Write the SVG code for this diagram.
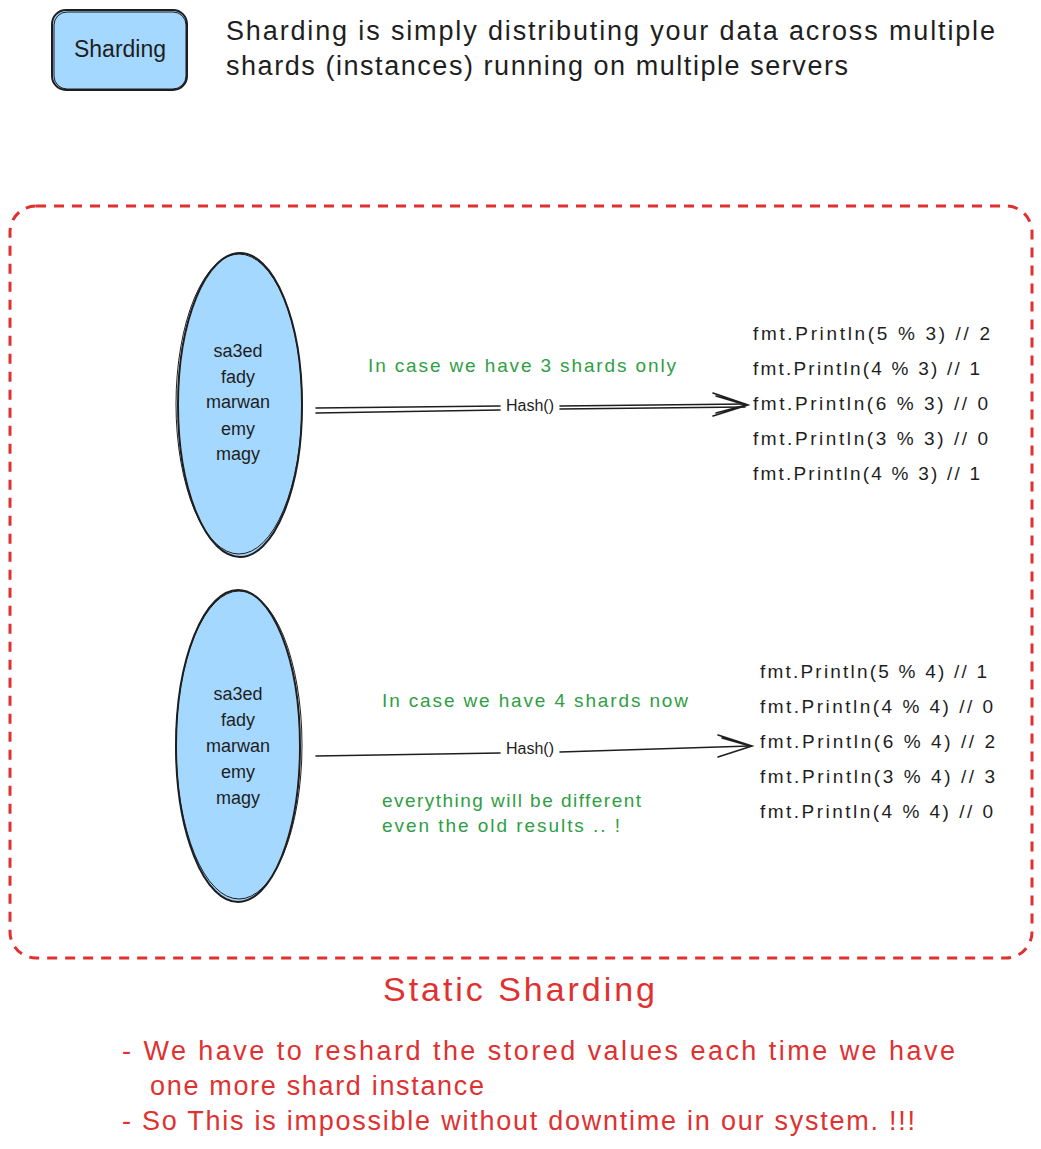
<svg xmlns="http://www.w3.org/2000/svg" width="1041" height="1149" viewBox="0 0 1041 1149">
<style>
text{font-family:"Liberation Sans",Arial,sans-serif;fill:#1e1e1e}
.hd{font-size:27px}
.nm{font-size:18px;text-anchor:middle}
.cd{font-size:19px}
.gr{font-size:19px;fill:#2f9e44}
.rd{fill:#e03131}
.sh{fill:#a5d8ff;stroke:#1e1e1e;stroke-width:2}
.ln{fill:none;stroke:#1e1e1e;stroke-width:1.6;stroke-linecap:round}
</style>
<rect width="1041" height="1149" fill="#ffffff"/>
<g id="sharding-box">
<rect class="sh" x="52" y="10" width="135" height="80" rx="14"/>
<rect x="54" y="12" width="132" height="77" rx="13" fill="none" stroke="#1e1e1e" stroke-width="1"/>
<text x="120" y="57" style="font-size:23px;text-anchor:middle">Sharding</text>
</g>
<g id="intro">
<text class="hd" x="226" y="40" textLength="769" lengthAdjust="spacing">Sharding is simply distributing your data across multiple</text>
<text class="hd" x="226" y="75" textLength="622" lengthAdjust="spacing">shards (instances) running on multiple servers</text>
</g>
<g id="static-frame">
<rect x="10" y="206" width="1022" height="752" rx="26" fill="none" stroke="#e03131" stroke-width="3" stroke-dasharray="10 8"/>
</g>
<g id="data-1">
<ellipse class="sh" cx="240" cy="405" rx="62" ry="152"/>
<ellipse cx="239" cy="404" rx="63" ry="150" fill="none" stroke="#1e1e1e" stroke-width="1"/>
<text class="nm" x="238" y="357">sa3ed</text>
<text class="nm" x="238" y="383">fady</text>
<text class="nm" x="238" y="408">marwan</text>
<text class="nm" x="238" y="435">emy</text>
<text class="nm" x="238" y="460">magy</text>
</g>
<g id="data-2">
<ellipse class="sh" cx="238" cy="746" rx="62" ry="156"/>
<ellipse cx="239" cy="745" rx="63" ry="154" fill="none" stroke="#1e1e1e" stroke-width="1"/>
<text class="nm" x="238" y="700">sa3ed</text>
<text class="nm" x="238" y="726">fady</text>
<text class="nm" x="238" y="752">marwan</text>
<text class="nm" x="238" y="778">emy</text>
<text class="nm" x="238" y="804">magy</text>
</g>
<g id="connectors">
<path class="ln" d="M316 408 L500 406 M316 413 L500 410 M560 406 L745 404 M560 409 L745 407"/>
<path class="ln" d="M713 393 L748 405 L713 416 M716 396 L746 405 L716 413"/>
<path class="ln" d="M316 756 L500 753 M560 752 L750 746"/>
<path class="ln" d="M718 735 L752 746 L718 757 M722 738 L750 746"/>
</g>
<g id="hash-labels">
<text x="530" y="411" style="font-size:16px;text-anchor:middle">Hash()</text>
<text x="530" y="754" style="font-size:16px;text-anchor:middle">Hash()</text>
</g>
<g id="notes">
<text class="gr" x="368" y="372" textLength="308" lengthAdjust="spacing">In case we have 3 shards only</text>
<text class="gr" x="382" y="707" textLength="306" lengthAdjust="spacing">In case we have 4 shards now</text>
<text class="gr" x="382" y="807" textLength="259" lengthAdjust="spacing">everything will be different</text>
<text class="gr" x="382" y="832" textLength="238" lengthAdjust="spacing">even the old results .. !</text>
</g>
<g id="results-3">
<text class="cd" x="753" y="340" textLength="237" lengthAdjust="spacing">fmt.Println(5 % 3) // 2</text>
<text class="cd" x="753" y="375" textLength="227" lengthAdjust="spacing">fmt.Println(4 % 3) // 1</text>
<text class="cd" x="753" y="410" textLength="235" lengthAdjust="spacing">fmt.Println(6 % 3) // 0</text>
<text class="cd" x="753" y="445" textLength="235" lengthAdjust="spacing">fmt.Println(3 % 3) // 0</text>
<text class="cd" x="753" y="480" textLength="227" lengthAdjust="spacing">fmt.Println(4 % 3) // 1</text>
</g>
<g id="results-4">
<text class="cd" x="760" y="678" textLength="227" lengthAdjust="spacing">fmt.Println(5 % 4) // 1</text>
<text class="cd" x="760" y="713" textLength="233" lengthAdjust="spacing">fmt.Println(4 % 4) // 0</text>
<text class="cd" x="760" y="748" textLength="235" lengthAdjust="spacing">fmt.Println(6 % 4) // 2</text>
<text class="cd" x="760" y="783" textLength="235" lengthAdjust="spacing">fmt.Println(3 % 4) // 3</text>
<text class="cd" x="760" y="818" textLength="233" lengthAdjust="spacing">fmt.Println(4 % 4) // 0</text>
</g>
<g id="conclusion">
<text class="rd" x="383" y="1001" style="font-size:34px" textLength="272" lengthAdjust="spacing">Static Sharding</text>
<text class="rd" x="122" y="1060" style="font-size:27px" textLength="833" lengthAdjust="spacing">- We have to reshard the stored values each time we have</text>
<text class="rd" x="150" y="1095" style="font-size:27px" textLength="334" lengthAdjust="spacing">one more shard instance</text>
<text class="rd" x="122" y="1130" style="font-size:27px" textLength="793" lengthAdjust="spacing">- So This is impossible without downtime in our system. !!!</text>
</g>
</svg>
